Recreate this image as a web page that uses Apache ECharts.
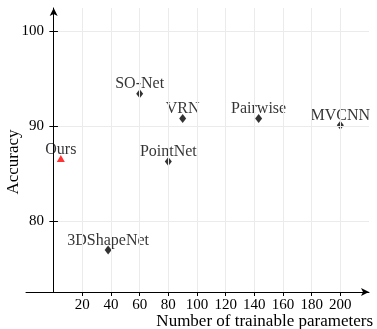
<!DOCTYPE html>
<html>
<head>
<meta charset="utf-8">
<script src="https://cdn.jsdelivr.net/npm/echarts@6/dist/echarts.min.js"></script>
<style>
html,body{margin:0;padding:0;background:#fff;}
#c{width:377px;height:329px;}
</style>
</head>
<body>
<div id="c"></div>
<script>
// Data
const methods = ['3DShapeNet', 'PointNet', 'SO-Net', 'VRN', 'Pairwise', 'MVCNN'];
const params = [38, 80, 60, 90, 143, 200];
const accuracy = [77.0, 86.3, 93.4, 90.8, 90.8, 90.1];
const oursName = ['Ours'];
const oursParams = [5];
const oursAccuracy = [86.6];
const xTicks = [20, 40, 60, 80, 100, 120, 140, 160, 180, 200];
const yTicks = [80, 90, 100];
const xRange = [-19.3, 220];
const yRange = [72.6, 102.4];

const FONT = 'Liberation Serif';
const chart = echarts.init(document.getElementById('c'), null, {renderer: 'canvas'});

const gridLines = [];
xTicks.forEach(v => gridLines.push([{coord: [v, yRange[0]]}, {coord: [v, yRange[1]]}]));
yTicks.forEach(v => gridLines.push([{coord: [0, v]}, {coord: [xRange[1], v]}]));
const yTickMarks = yTicks.map(v => [{coord: [-3, v]}, {coord: [3, v]}]);

const labelStyle = {
  show: true,
  position: 'top',
  distance: -3,
  color: '#000',
  fontFamily: FONT,
  fontSize: 16,
  lineHeight: 16
};

chart.setOption({
  animation: false,
  backgroundColor: '#fff',
  grid: {left: 26, right: 8, top: 8, bottom: 37, containLabel: false, outerBoundsMode: 'none'},
  xAxis: {
    type: 'value',
    min: xRange[0],
    max: xRange[1],
    name: 'Number of trainable parameters',
    nameLocation: 'end',
    nameGap: 4,
    nameMoveOverlap: false,
    nameTextStyle: {color: '#000', fontFamily: FONT, fontSize: 17, align: 'right', verticalAlign: 'top', padding: [21, 0, 0, 0]},
    axisLine: {show: true, onZero: false, symbol: ['none', 'arrow'], symbolSize: [6, 8], lineStyle: {color: '#000', width: 1}},
    axisTick: {show: true, customValues: xTicks, length: 4, inside: false, lineStyle: {color: '#000'}},
    axisLabel: {show: true, customValues: xTicks, margin: 6, color: '#000', fontFamily: FONT, fontSize: 15},
    splitLine: {show: false}
  },
  yAxis: {
    type: 'value',
    min: yRange[0],
    max: yRange[1],
    name: 'Accuracy',
    nameLocation: 'middle',
    nameGap: 4,
    nameMoveOverlap: false,
    nameRotate: 90,
    nameTextStyle: {color: '#000', fontFamily: FONT, fontSize: 17, padding: [0, 24, 0, 0]},
    axisLine: {show: true, onZero: true, symbol: ['none', 'arrow'], symbolSize: [6, 8], lineStyle: {color: '#000', width: 1}},
    axisTick: {show: false},
    axisLabel: {show: true, customValues: yTicks, margin: -18, color: '#000', fontFamily: FONT, fontSize: 15},
    splitLine: {show: false}
  },
  series: [
    {
      type: 'scatter',
      name: 'grid',
      data: [],
      silent: true,
      z: 0,
      markLine: {
        silent: true,
        symbol: ['none', 'none'],
        label: {show: false},
        lineStyle: {color: '#ebebeb', width: 1, type: 'solid'},
        emphasis: {disabled: true},
        animation: false,
        data: gridLines
      }
    },
    {
      type: 'scatter',
      name: 'yticks',
      data: [],
      silent: true,
      z: 2,
      markLine: {
        silent: true,
        symbol: ['none', 'none'],
        label: {show: false},
        lineStyle: {color: '#000', width: 1, type: 'solid'},
        emphasis: {disabled: true},
        animation: false,
        data: yTickMarks
      }
    },
    {
      type: 'scatter',
      name: 'Others',
      z: 3,
      symbol: 'diamond',
      symbolSize: [7, 9],
      itemStyle: {color: '#000'},
      data: methods.map((m, i) => ({name: m, value: [params[i], accuracy[i]]})),
      label: Object.assign({}, labelStyle, {formatter: p => p.name})
    },
    {
      type: 'scatter',
      name: 'Ours',
      z: 3,
      symbol: 'triangle',
      symbolSize: [8, 7],
      itemStyle: {color: '#ff0000'},
      data: oursName.map((m, i) => ({name: m, value: [oursParams[i], oursAccuracy[i]]})),
      label: Object.assign({}, labelStyle, {formatter: p => p.name})
    }
  ]
});
</script>
</body>
</html>
